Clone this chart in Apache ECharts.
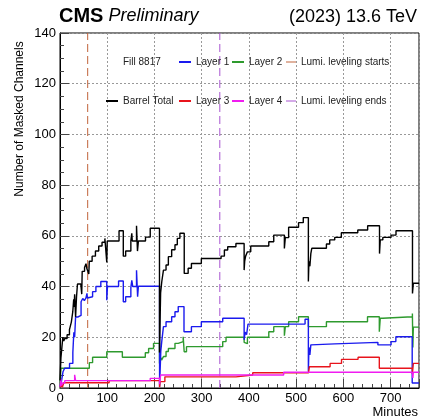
<!DOCTYPE html>
<html>
<head>
<meta charset="utf-8">
<script src="https://cdn.jsdelivr.net/npm/echarts@6/dist/echarts.min.js"></script>
<style>html,body{margin:0;padding:0;background:#fff;}#c{width:422px;height:419px;}</style>
</head>
<body>
<div id="c"></div>
<script>
// ---- data: [minute, masked channels], value holds from that minute on ----
const barrelTotal = [[0,3],[2,12],[4,16],[6,20],[8,18.5],[10,19.5],[15,21],[20,23],[24,26],[27,30],[29,35],[30,32],[31,37],[33,28],[35,36],[37,41],[44,41],[46,37],[47,46],[52,47.5],[55,49],[57,47],[61,45],[62,50],[68,52],[75,54],[82,56],[89,57.5],[95,59],[99,49.5],[100,58],[125,62],[134,52],[139,54],[150,58],[152,61],[153,58],[162,64],[164,54],[166,58],[181,59.5],[191,63],[210.6,14],[213,37.5],[215.5,42],[219,46.5],[224.5,48.5],[229.4,51.8],[236.4,54.5],[243.4,56.5],[248.3,59],[253.8,61],[263,45.2],[271.3,47.2],[278.2,49.1],[299.2,51.1],[341,52],[348,54.4],[355,55.7],[372.4,57],[389.8,46.5],[391,50],[393,52],[396.8,53.7],[403.8,56],[442,57.7],[452.5,60.3],[475,55],[477,59.3],[484,63.4],[505,65.2],[515,67.2],[525.8,42],[527,50],[529,48],[531,53],[533,55.1],[564,56.8],[571,58.4],[581.6,59.4],[595.6,61.2],[630.4,62.3],[651.3,64],[676.4,53],[678,58.4],[683.4,59.4],[700.8,60.3],[711.3,62],[746.2,37.3],[748,41.3],[760,41.3]];
const layer1 = [[0,0.5],[3,2.5],[6.3,6.4],[9.8,7.8],[20.2,9.7],[27.2,14],[29.3,22],[31,20],[33,28],[37.7,28.6],[44.6,34],[48.1,35.3],[51.6,34.5],[55,35.5],[57.1,37.3],[58,35.5],[62.1,36],[69,38],[76,40],[86.4,42],[99,34.6],[100.5,40],[124,42.2],[134,34],[139,36],[150,39.6],[152,42.5],[154,40],[162,46.4],[164.3,36],[166,40.1],[210.8,0.5],[213.4,14.5],[215.5,18.5],[219,24.2],[224.5,26.1],[236.4,28.1],[243.4,30.1],[250.3,32.1],[262.5,22.2],[278.2,24.2],[299.2,26.1],[344.5,27.5],[389.8,19],[392,22],[395,21],[398,25.2],[518.8,27.1],[525.8,6.4],[527,16],[529,13],[531,17],[533,17.4],[581.6,18],[673,17],[700.8,18.3],[711,20.2],[745.6,2],[760,2]];
const layer2 = [[0,0.5],[2,7.8],[62.1,10],[69,12.1],[99,14.3],[132,12.1],[180.6,13.9],[187.6,15.6],[198,17.6],[210.6,9.7],[213,12],[215,11],[219,12.4],[224.5,14.4],[229.4,15.6],[243.4,17.6],[250.3,18.3],[260.8,20.2],[262.9,14.3],[267.8,16.3],[344.5,18.3],[351.5,20],[389.8,18],[392,17.5],[396.8,20],[442,22.2],[452.5,24.2],[475,20.6],[477,24.2],[484,26.1],[505,28.1],[525.8,24.2],[564,26.1],[651,28.1],[676,22.2],[678,27.5],[683.4,28.1],[746,29.4],[747,16],[748,24],[760,24]];
const layer3 = [[0,0.3],[3,1.5],[5,0.3],[8,2.1],[104,2.9],[210.8,0.3],[212,2.5],[222,4.4],[372.5,5.1],[408,6.0],[526,6.4],[528,8.4],[571.8,9.7],[596,11.3],[631,12.1],[676,7.8],[746,5.5],[748,9.7],[760,9.7]];
const layer4 = [[0,0.5],[2,3.5],[3,1],[5,2],[10,2.9],[31,5.2],[33,2.9],[191,3.8],[210.8,1.5],[213,5.1],[473.5,6.2],[746,6.2],[747,4],[748,6.2],[760,6.2]];
const lumiLevelingStart = 58.6;
const lumiLevelingEnd = 338.3;
const xTicks = [0,100,200,300,400,500,600,700];
const yTicks = [0,20,40,60,80,100,120,140];

const F = 'Liberation Sans';
const chart = echarts.init(document.getElementById('c'), null, {renderer:'canvas'});

function stepSeries(name, data, color, z) {
  return {name, type:'line', step:'end', data, symbol:'none', showSymbol:false,
          color, lineStyle:{color, width:1.4}, z, animation:false, xAxisIndex:0, yAxisIndex:0};
}
function vline(name, xv, color) {
  return {name, type:'line', data:[[xv,0],[xv,140]], symbol:'none', showSymbol:false,
          color, lineStyle:{color, width:1, type:[8,4]}, z:1, animation:false};
}
const legendText = {fontFamily:F, fontSize:10, color:'#222', lineHeight:12};
function legendCol(left, items, w, h) {
  return {orient:'vertical', left, top:56, itemWidth:w, itemHeight:h, itemGap:27, icon:'rect',
          selectedMode:false, textStyle:legendText, padding:0, data:items};
}

chart.setOption({
  animation:false,
  backgroundColor:'#fff',
  title:[
    {text:'{a|CMS}{b| Preliminary}', left:59, top:6, padding:0,
     textStyle:{fontWeight:'normal', rich:{a:{fontFamily:F, fontSize:20, fontWeight:'bold', color:'#000'},
                      b:{fontFamily:F, fontSize:18, fontStyle:'italic', fontWeight:'normal', color:'#000'}}}},
    {text:'(2023) 13.6 TeV', right:5, top:8, padding:0,
     textStyle:{fontFamily:F, fontSize:18, fontWeight:'normal', color:'#000'}}
  ],
  legend:[
    legendCol(106, [{name:'Fill 8817', icon:'none'}, 'Barrel Total'], 12, 2),
    legendCol(179, ['Layer 1','Layer 3'], 12, 2),
    legendCol(232, ['Layer 2','Layer 4'], 12, 2),
    legendCol(286, ['Lumi. leveling starts','Lumi. leveling ends'], 10, 1)
  ],
  grid:{left:60, top:33, bottom:31, width:363.3, show:true, borderColor:'#000', borderWidth:1, backgroundColor:'transparent'},
  xAxis:[
    {type:'value', min:0, max:760, interval:100,
     axisLine:{show:true, lineStyle:{color:'#000'}},
     axisTick:{show:true, inside:true, length:9, lineStyle:{color:'#444'}},
     axisLabel:{fontFamily:F, fontSize:13, color:'#000', margin:4,
                formatter:v => xTicks.includes(v) ? String(v) : ''},
     splitLine:{show:true, lineStyle:{color:'#999', type:[2,2], width:1}}},
    {type:'value', min:0, max:760, interval:20, position:'bottom',
     axisLine:{show:false}, axisLabel:{show:false}, splitLine:{show:false},
     axisTick:{show:true, inside:true, length:4, lineStyle:{color:'#444'}}}
  ],
  yAxis:{type:'value', min:0, max:140, interval:20,
     axisLine:{show:true, lineStyle:{color:'#000'}},
     axisTick:{show:true, inside:true, length:9, lineStyle:{color:'#444'}},
     minorTick:{show:true, splitNumber:4, length:4, lineStyle:{color:'#444'}},
     axisLabel:{fontFamily:F, fontSize:13, color:'#000', margin:4,
                formatter:v => yTicks.includes(v) ? String(v) : ''},
     splitLine:{show:true, lineStyle:{color:'#999', type:[2,2], width:1}}},
  graphic:[
    {type:'text', x:20, y:119, rotation:Math.PI/2,
     style:{text:'Number of Masked Channels', fontFamily:F, fontSize:12, fill:'#000', align:'center', verticalAlign:'middle'}},
    {type:'text', right:4, top:406,
     style:{text:'Minutes', fontFamily:F, fontSize:13, fill:'#000'}}
  ],
  series:[
    {name:'Fill 8817', type:'line', data:[], symbol:'none', color:'#fff'},
    vline('Lumi. leveling starts', lumiLevelingStart, '#c0643c'),
    vline('Lumi. leveling ends', lumiLevelingEnd, '#a855d0'),
    stepSeries('Layer 2', layer2, '#2e9a2e', 3),
    stepSeries('Layer 1', layer1, '#1a1aee', 4),
    stepSeries('Layer 3', layer3, '#e8141c', 5),
    stepSeries('Layer 4', layer4, '#f01cf0', 6),
    stepSeries('Barrel Total', barrelTotal, '#000000', 7)
  ]
});
</script>
</body>
</html>
